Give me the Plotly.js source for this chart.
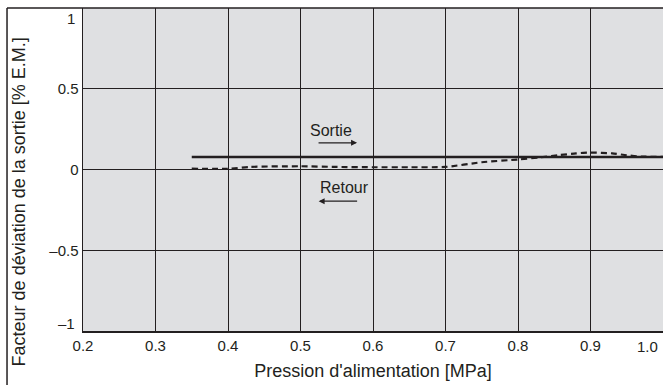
<!DOCTYPE html>
<html><head><meta charset="utf-8">
<script src="https://cdn.plot.ly/plotly-3.0.1.min.js"></script>
<style>html,body{margin:0;padding:0;background:#fff;}#chart{width:663px;height:385px;}</style>
</head><body><div id="chart"></div>
<script>
// Data
const sortieX = [0.35, 1.0];
const sortieY = [0.078, 0.078];
const retourX = [0.35, 0.4, 0.43, 0.5, 0.55, 0.6, 0.65, 0.7, 0.75, 0.8, 0.83, 0.855, 0.88, 0.9, 0.93, 0.95, 0.97, 1.0];
const retourY = [0.005, 0.004, 0.016, 0.02, 0.016, 0.014, 0.014, 0.016, 0.045, 0.062, 0.075, 0.088, 0.1, 0.105, 0.1, 0.088, 0.08, 0.078];
const xTickVals = [0.2, 0.3, 0.4, 0.5, 0.6, 0.7, 0.8, 0.9];
const xTickText = ['0.2', '0.3', '0.4', '0.5', '0.6', '0.7', '0.8', '0.9'];
const yTickVals = [-0.5, 0, 0.5];
const yTickText = ['–0.5', '0', '0.5'];
const xTitle = "Pression d'alimentation [MPa]";
const yTitle = 'Facteur de déviation de la sortie [% E.M.]';

const font = {family: 'Liberation Sans, Arial, sans-serif', size: 15, color: '#231f20'};

const traces = [
  {x: sortieX, y: sortieY, mode: 'lines', line: {color: '#231f20', width: 2.5}, hoverinfo: 'skip'},
  {x: retourX, y: retourY, mode: 'lines', line: {color: '#231f20', width: 2.2, dash: '6px,4px', shape: 'spline', smoothing: 0.6}, hoverinfo: 'skip'}
];

const layout = {
  width: 663, height: 385,
  margin: {l: 83, r: 0, t: 8, b: 54},
  paper_bgcolor: '#ffffff',
  plot_bgcolor: '#dfe0e2',
  showlegend: false,
  font: font,
  xaxis: {
    range: [0.2, 1.0], tickvals: xTickVals, ticktext: xTickText,
    showgrid: true, gridcolor: '#231f20', gridwidth: 1,
    showline: true, linecolor: '#231f20', linewidth: 1.5,
    zeroline: false, ticks: '', tickfont: {size: 15},
    title: {text: xTitle, font: {size: 18}, standoff: 12},
    fixedrange: true
  },
  yaxis: {
    range: [-1, 1], tickvals: yTickVals, ticktext: yTickText,
    showgrid: true, gridcolor: '#231f20', gridwidth: 1,
    showline: true, linecolor: '#231f20', linewidth: 1.5,
    zeroline: false, ticks: '', ticklen: 0, tickfont: {size: 15},
    fixedrange: true
  },
  shapes: [
    {type: 'line', xref: 'paper', yref: 'paper', x0: -0.131, x1: 1.0, y0: 1, y1: 1, line: {color: '#231f20', width: 1.5}},
    {type: 'line', xref: 'paper', yref: 'paper', x0: -0.131, x1: -0.131, y0: 1, y1: -0.2, line: {color: '#231f20', width: 1.5}}
  ],
  annotations: [
    {x: 1.0, y: -1, xref: 'x', yref: 'y', text: '1.0', showarrow: false, xanchor: 'right', yanchor: 'top', xshift: -3, yshift: -5, font: {size: 15}},
    {x: 0.2, y: 1, xref: 'x', yref: 'y', text: '1', showarrow: false, xanchor: 'right', yanchor: 'middle', xshift: -6, yshift: -10, font: {size: 15}},
    {x: 0.2, y: -1, xref: 'x', yref: 'y', text: '–1', showarrow: false, xanchor: 'right', yanchor: 'middle', xshift: -6, yshift: 8, font: {size: 15}},
    {x: -0.111, y: 0.4, xref: 'paper', yref: 'paper', text: yTitle, showarrow: false, textangle: -90, xanchor: 'center', yanchor: 'middle', font: {size: 18}},
    {x: 0.542, y: 0.243, xref: 'x', yref: 'y', text: 'Sortie', showarrow: false, font: {size: 16}},
    {x: 0.560, y: -0.11, xref: 'x', yref: 'y', text: 'Retour', showarrow: false, font: {size: 16}},
    {x: 0.578, y: 0.165, xref: 'x', yref: 'y', text: '', showarrow: true, arrowhead: 2, arrowsize: 1, arrowwidth: 1.2, arrowcolor: '#231f20', ax: -40, ay: 0},
    {x: 0.525, y: -0.196, xref: 'x', yref: 'y', text: '', showarrow: true, arrowhead: 2, arrowsize: 1, arrowwidth: 1.2, arrowcolor: '#231f20', ax: 40, ay: 0}
  ]
};

Plotly.newPlot('chart', traces, layout, {staticPlot: true, displayModeBar: false});
</script>
</body></html>
